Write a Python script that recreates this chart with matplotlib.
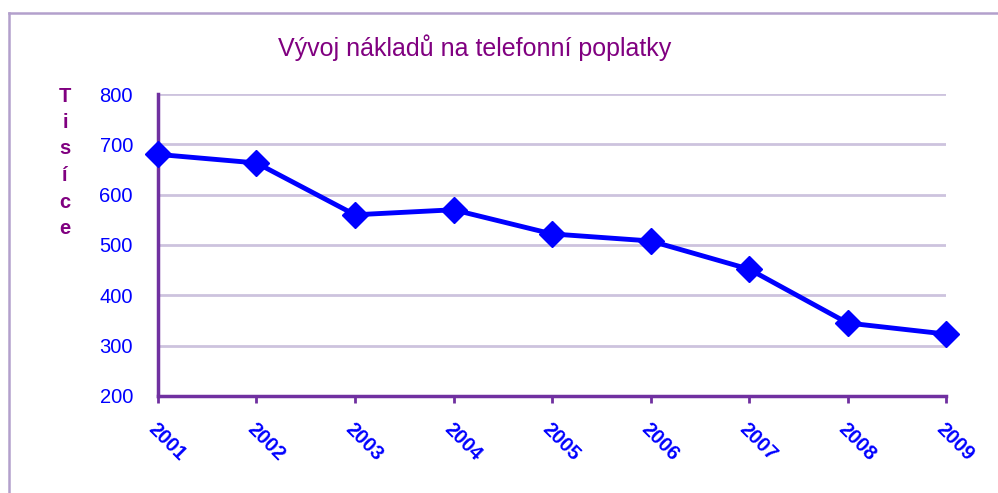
import matplotlib.pyplot as plt
from matplotlib.lines import Line2D

# dati
roky = ["2001", "2002", "2003", "2004", "2005", "2006", "2007", "2008", "2009"]
naklady = [680, 663, 560, 570, 522, 508, 452, 345, 323]
y_ticks = [200, 300, 400, 500, 600, 700, 800]

fialova = "#7030a0"
modra = "#0000ff"

plt.rcParams['font.family'] = ['Liberation Sans', 'DejaVu Sans']

fig = plt.figure(figsize=(9.98, 4.93), dpi=100)
ax = fig.add_axes([0.1583, 0.1968, 0.7897, 0.6125])

x = range(len(roky))
ax.plot(x, naklady, color=modra, lw=3.5, marker="D", markersize=13, zorder=3,
        clip_on=False)

ax.set_xlim(0, len(roky) - 1)
ax.set_ylim(200, 800)
ax.set_yticks(y_ticks)
ax.set_xticks(list(x))
ax.set_xticklabels(roky, rotation=-45, ha="left", va="top", rotation_mode="anchor",
                   fontsize=14.5, fontweight="bold", color=modra)
ax.set_yticklabels([str(v) for v in y_ticks], fontsize=14.5, color=modra)

ax.grid(axis="y", color="#cdc3de", lw=2)
ax.set_axisbelow(True)
for s in ["top", "right"]:
    ax.spines[s].set_visible(False)
ax.spines["left"].set_color(fialova)
ax.spines["bottom"].set_color(fialova)
ax.spines["left"].set_linewidth(2.5)
ax.spines["bottom"].set_linewidth(2.5)
ax.tick_params(axis="x", length=5, width=2, color=fialova, pad=12)
ax.tick_params(axis="y", length=0, pad=18)

# popisek osy y svisle po pismenech
for i, ch in enumerate("Tisíce"):
    fig.text(65 / 998, 1 - (96 + i * 26.5) / 493, ch, ha="center", va="center",
             fontsize=14.5, fontweight="bold", color="#800080")

fig.text(475 / 998, 1 - 48 / 493, "Vývoj nákladů na telefonní poplatky",
         ha="center", va="center", fontsize=18, color="#800080")

# ramecek
fig.add_artist(Line2D([9 / 998, 9 / 998], [0, 1 - 13 / 493], color="#b3a0cc", lw=1.8,
                      transform=fig.transFigure))
fig.add_artist(Line2D([9 / 998, 1], [1 - 13 / 493, 1 - 13 / 493], color="#b3a0cc", lw=1.8,
                      transform=fig.transFigure))

fig.savefig("out.png", dpi=100)
